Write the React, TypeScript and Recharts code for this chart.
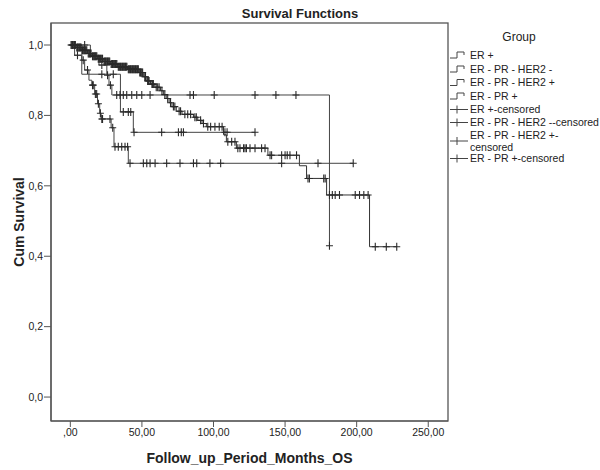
import React from 'react';
import { ComposedChart, Line, Scatter, XAxis, YAxis } from 'recharts';

const FONT = '"Liberation Sans", Arial, Helvetica, sans-serif';

const chartTitle = 'Survival Functions';
const xLabel = 'Follow_up_Period_Months_OS';
const yLabel = 'Cum Survival';
const legendTitle = 'Group';
const groupNames = ['ER +', 'ER - PR - HER2 -', 'ER - PR - HER2 +', 'ER - PR +'];
const censorLegend = ['ER +-censored', 'ER - PR - HER2 --censored', 'ER - PR - HER2 +-\ncensored', 'ER - PR +-censored'];

const xTicks = [0, 50, 100, 150, 200, 250];
const yTicks = [0, 0.2, 0.4, 0.6, 0.8, 1.0];

// ER + : [time, cumulative survival]
const erPosEvents: [number, number][] = [
  [0, 1], [4, 0.993], [8, 0.985], [12, 0.976], [15, 0.968], [19, 0.961], [23, 0.953], [28, 0.946],
  [33, 0.938], [40, 0.931], [48, 0.922], [51, 0.91], [53, 0.898], [56, 0.889], [59, 0.88], [63, 0.87],
  [65, 0.859], [67, 0.848], [69, 0.836], [71, 0.825], [74, 0.812], [78, 0.803], [86, 0.795], [89, 0.786],
  [92, 0.777], [95, 0.768], [107, 0.745], [109, 0.725], [116, 0.707], [138, 0.687], [160, 0.657],
  [165, 0.621], [179, 0.574], [209, 0.427], [228, 0.427],
];
const erPosCensored = [
  0.5, 1, 1.5, 2, 2.5, 3, 3.5, 4.5, 5, 5.5, 6, 6.5, 7, 7.5, 8.5, 9, 9.5, 10, 10.5, 11, 11.5, 12.5, 13,
  13.5, 14, 14.5, 15.5, 16, 16.5, 17, 17.5, 18, 18.5, 19.5, 20, 20.5, 21, 21.5, 22, 22.5, 23.5, 24, 24.5,
  25, 25.5, 26, 26.5, 27, 27.5, 28.5, 29, 29.5, 30, 30.5, 31, 31.5, 32, 32.5, 33.5, 34, 34.5, 35, 35.5,
  36, 36.5, 37, 37.5, 38, 38.5, 39, 39.5, 40.5, 41, 41.5, 42, 42.5, 43, 43.5, 44, 44.5, 45, 45.5, 46,
  46.5, 47, 47.5, 48.5, 49, 49.5, 50, 50.5, 52, 52.5, 54, 54.5, 55, 57, 57.5, 58, 60, 61, 62, 64, 66, 68,
  70, 72, 73, 76, 77, 80, 82, 84, 87, 88, 91, 93, 96, 98, 101, 104, 106, 110, 112.7, 115, 117, 118.5,
  121, 122, 123, 125.5, 129, 133.6, 136, 139.5, 140.6, 147.6, 150, 151.5, 153.4, 158, 166, 167, 177,
  178, 181, 183, 185, 188, 199, 202, 205, 208, 213, 220.7, 228,
];

// ER - PR - HER2 -
const tripleNegEvents: [number, number][] = [
  [0, 1], [3, 0.971], [8, 0.957], [10, 0.929], [13, 0.9], [15, 0.886], [17, 0.861], [19, 0.833],
  [20.5, 0.806], [21.5, 0.79], [28.5, 0.765], [30.5, 0.711], [40.5, 0.664], [197.6, 0.664],
];
const tripleNegCensored = [
  5, 9, 12, 15.5, 16, 17.5, 18.4, 19.6, 21, 22, 22.5, 27.7, 29.6, 31.2, 33.5, 35.9, 38.2, 40, 41.7, 51,
  53.4, 55.7, 59.2, 67.3, 76.6, 86, 88.3, 97.5, 105, 147.6, 173, 197.6,
];

// ER - PR - HER2 +
const her2PosEvents: [number, number][] = [
  [0, 1], [8, 0.917], [35, 0.81], [44, 0.752], [129, 0.752],
];
const her2PosCensored = [3, 22, 30, 37, 40.5, 42.2, 44.5, 63.8, 75.5, 77.5, 79, 108, 109.5, 129];

// ER - PR +
const prPosEvents: [number, number][] = [
  [0, 1], [14, 0.971], [20, 0.943], [25.5, 0.914], [27, 0.886], [29, 0.858], [181, 0.43],
];
const prPosCensored = [
  3, 10, 22, 26, 28, 32.4, 34.7, 37, 39.4, 42.9, 46.4, 49.9, 55.7, 83.6, 86, 100.5, 129, 143.6, 157.6, 181,
];

type Pt = { t: number; s: number };
const toLine = (ev: [number, number][]): Pt[] => ev.map(([t, s]) => ({ t, s }));
const survivalAt = (ev: [number, number][], c: number) => {
  let s = ev[0][1];
  for (const [t, v] of ev) if (t <= c) s = v;
  return s;
};
const toCensor = (ev: [number, number][], cs: number[]): Pt[] => cs.map((c) => ({ t: c, s: survivalAt(ev, c) }));

const series = [
  { name: groupNames[0], events: erPosEvents, censored: erPosCensored, color: '#333333' },
  { name: groupNames[1], events: tripleNegEvents, censored: tripleNegCensored, color: '#444444' },
  { name: groupNames[2], events: her2PosEvents, censored: her2PosCensored, color: '#444444' },
  { name: groupNames[3], events: prPosEvents, censored: prPosCensored, color: '#444444' },
];

const Cross = (props: any) => {
  const { cx, cy } = props;
  if (cx == null || cy == null) return null;
  return (
    <path
      d={`M${cx - 3.5},${cy}H${cx + 3.5}M${cx},${cy - 4}V${cy + 4}`}
      stroke="#2a2a2a"
      strokeWidth={1.1}
      fill="none"
    />
  );
};

const fmtX = (v: number) => (v === 0 ? ',00' : `${v},00`);
const fmtY = (v: number) => v.toFixed(1).replace('.', ',');

const FRAME = '#555';
const PLOT = { left: 51, top: 23, right: 448, bottom: 421 };

export default function App() {
  const legendRows = [55, 69, 82.5, 96, 109.5, 122.5, 141, 158.5];
  return (
    <div style={{ position: 'absolute', left: 0, top: 0, width: 600, height: 470, background: '#fff', fontFamily: FONT }}>
      <ComposedChart width={600} height={470} margin={{ top: PLOT.top, right: 600 - PLOT.right, bottom: 0, left: 0 }}>
        <XAxis
          xAxisId="b"
          type="number"
          dataKey="t"
          domain={[-13.5, 263.8]}
          allowDataOverflow
          ticks={xTicks}
          tickFormatter={fmtX}
          height={470 - PLOT.bottom}
          tickSize={6}
          tickMargin={2}
          stroke={FRAME}
          tick={{ fill: '#222', fontSize: 10.5, fontFamily: FONT }}
          axisLine={{ stroke: FRAME, strokeWidth: 1.2 }}
          tickLine={{ stroke: FRAME }}
        />
        <YAxis
          yAxisId="l"
          type="number"
          domain={[-0.068, 1.0625]}
          allowDataOverflow
          ticks={yTicks}
          tickFormatter={fmtY}
          width={PLOT.left}
          tickSize={7}
          tickMargin={1}
          stroke={FRAME}
          tick={{ fill: '#222', fontSize: 10.5, fontFamily: FONT }}
          axisLine={{ stroke: FRAME, strokeWidth: 1.2 }}
          tickLine={{ stroke: FRAME }}
        />
        {series.map((sr) => (
          <Line
            key={`l-${sr.name}`}
            xAxisId="b"
            yAxisId="l"
            data={toLine(sr.events)}
            dataKey="s"
            type="stepAfter"
            stroke={sr.color}
            strokeWidth={1}
            dot={false}
            activeDot={false}
            isAnimationActive={false}
          />
        ))}
        {series.map((sr) => (
          <Scatter
            key={`c-${sr.name}`}
            xAxisId="b"
            yAxisId="l"
            data={toCensor(sr.events, sr.censored)}
            dataKey="s"
            shape={Cross}
            isAnimationActive={false}
          />
        ))}
      </ComposedChart>
      <svg width={600} height={470} style={{ position: 'absolute', left: 0, top: 0, pointerEvents: 'none' }}>
        <rect
          x={PLOT.left}
          y={PLOT.top}
          width={PLOT.right - PLOT.left}
          height={PLOT.bottom - PLOT.top}
          fill="none"
          stroke={FRAME}
          strokeWidth={1.3}
        />
        <text x={300} y={18} textAnchor="middle" fontFamily={FONT} fontWeight="bold" fontSize={13} fill="#222">
          {chartTitle}
        </text>
        <text x={249.5} y={463} textAnchor="middle" fontFamily={FONT} fontWeight="bold" fontSize={14} fill="#222">
          {xLabel}
        </text>
        <text
          x={0}
          y={0}
          transform="translate(24,222) rotate(-90)"
          textAnchor="middle"
          fontFamily={FONT}
          fontWeight="bold"
          fontSize={14}
          fill="#222"
        >
          {yLabel}
        </text>
        <text x={519} y={41} textAnchor="middle" fontFamily={FONT} fontSize={12} fill="#222">
          {legendTitle}
        </text>
        {groupNames.map((g, i) => {
          const y = legendRows[i];
          return (
            <g key={`lg-${g}`}>
              <path d={`M450,${y + 3}H457V${y - 3}H464V${y}`} stroke="#444" fill="none" strokeWidth={1} />
              <text x={470} y={y + 3.5} fontFamily={FONT} fontSize={10.5} fill="#222">
                {g}
              </text>
            </g>
          );
        })}
        {censorLegend.map((g, i) => {
          const y = legendRows[4 + i];
          const lines = g.split('\n');
          return (
            <g key={`lc-${g}`}>
              <path d={`M450,${y}H468M457,${y - 4}V${y + 4}`} stroke="#444" fill="none" strokeWidth={1} />
              {lines.length === 1 ? (
                <text x={470} y={y + 3.5} fontFamily={FONT} fontSize={10.5} fill="#222">
                  {g}
                </text>
              ) : (
                <text fontFamily={FONT} fontSize={10.5} fill="#222">
                  <tspan x={470} y={y - 2.5}>{lines[0]}</tspan>
                  <tspan x={470} y={y + 9.5}>{lines[1]}</tspan>
                </text>
              )}
            </g>
          );
        })}
      </svg>
    </div>
  );
}
